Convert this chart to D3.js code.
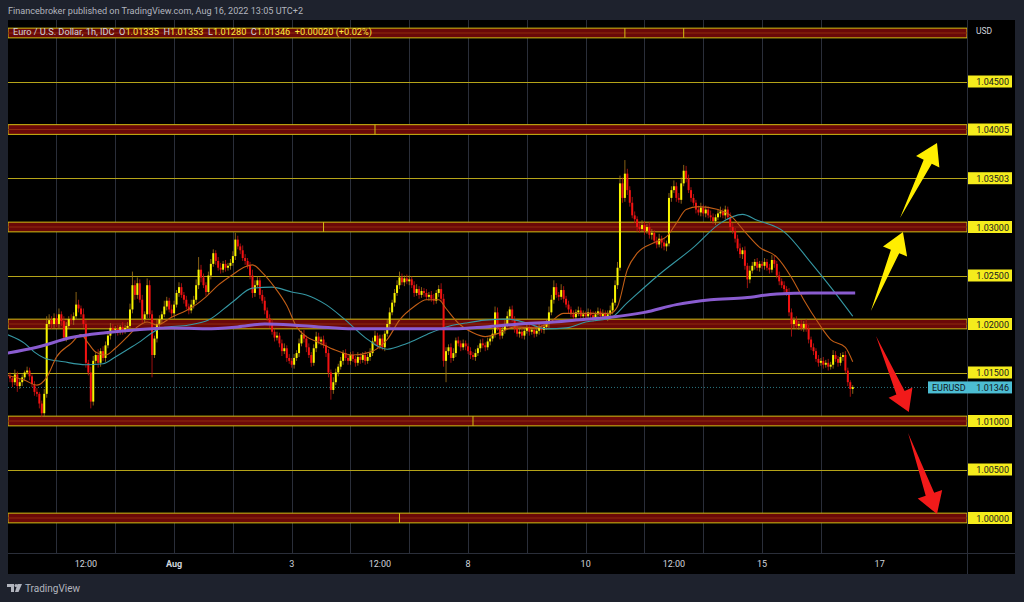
<!DOCTYPE html>
<html>
<head>
<meta charset="utf-8">
<script src="https://cdnjs.cloudflare.com/ajax/libs/d3/7.8.5/d3.min.js"></script>
<style>
  html, body { margin: 0; padding: 0; background: #1e222d; }
  svg { display: block; font-family: Roboto, "Liberation Sans", sans-serif; }
</style>
</head>
<body>
<svg id="canvas" width="1024" height="602"></svg>
<script>
// EUR/USD 1h closes, pips above 1.00000 (Jul 27 04:00 .. Aug 16 13:00)
let closes = [
  146,144,140,148,136,140,145,150,152,146,138,130,128,118,108,128,200,204,200,206,
  200,210,203,186,198,205,204,208,220,216,210,200,160,150,120,162,168,160,172,165,178,188,196,194,
  195,192,197,193,196,198,215,240,230,242,225,205,210,240,210,168,185,200,205,210,218,224,215,211,
  220,232,238,230,225,218,214,220,225,240,256,248,240,233,250,262,273,265,258,256,262,258,260,263,
  270,287,280,276,268,265,260,250,232,240,245,230,224,214,206,200,192,186,188,180,172,175,165,162,
  158,165,170,180,189,185,176,168,160,175,187,182,184,178,170,150,132,140,150,156,162,170,165,162,
  168,164,160,166,163,168,162,166,170,182,188,178,185,176,190,200,212,222,232,240,248,243,247,244,
  246,240,232,236,230,234,232,228,230,226,224,232,236,226,162,172,176,165,170,183,180,176,180,177,
  172,168,166,170,175,180,178,176,182,185,190,212,196,188,194,200,208,215,205,195,190,192,188,193,
  196,192,194,190,193,196,194,197,200,212,225,238,230,228,235,226,220,215,210,207,212,214,208,210,
  208,212,209,206,210,213,208,211,207,210,214,222,240,258,345,330,355,338,325,312,308,300,298,302,
  296,300,292,294,286,282,288,284,280,283,330,338,342,330,328,345,358,350,338,330,325,318,315,320,
  314,318,312,310,306,310,314,316,312,318,310,300,296,288,278,272,276,260,246,255,260,264,258,262,
  260,264,258,256,266,262,250,244,240,236,232,212,200,204,198,200,196,200,195,184,176,172,164,160,
  162,158,160,156,158,168,164,160,166,168,152,140,133,135
]
let firstOpen = 148

// wick lengths above / below the body, pips
let wickUp = [
  3,4,2,5,3,4,3,2,4,3,2,3,4,2,3,5,8,6,4,5,
  4,6,3,5,4,3,5,4,13,5,3,6,4,3,6,5,4,6,3,5,4,3,5,4,
  3,4,2,5,3,4,6,14,5,6,4,5,3,7,5,4,3,5,4,3,6,4,3,5,
  4,3,5,4,3,4,3,5,4,6,13,5,4,3,4,5,4,3,4,5,3,4,3,4,
  5,7,4,3,5,4,3,4,6,5,4,3,5,4,3,4,5,3,4,3,4,5,3,4,
  3,4,3,5,4,5,3,4,3,4,5,4,3,4,3,4,3,5,4,3,4,3,4,3,
  3,4,3,5,4,3,4,3,5,4,5,3,4,4,3,4,5,3,4,5,6,4,3,4,
  4,3,4,5,3,4,3,4,3,4,5,3,4,6,5,4,3,4,5,3,4,3,4,3,
  3,4,3,4,3,4,5,3,4,3,4,6,5,4,3,4,5,3,4,3,4,3,4,3,
  3,4,3,4,3,4,3,4,5,6,5,7,4,3,6,4,3,4,3,4,3,4,3,4,
  3,4,3,4,3,4,3,4,3,4,5,4,5,6,8,6,14,5,4,6,4,3,4,5,
  4,3,5,4,3,4,5,3,4,3,5,4,6,4,5,6,6,5,4,3,4,3,4,5,
  3,4,3,5,4,3,4,5,3,4,3,5,4,3,4,5,3,4,3,5,4,3,4,3,
  3,4,3,4,5,4,3,4,3,4,3,5,4,3,4,3,4,3,5,4,3,4,3,4,
  3,4,3,4,3,5,4,3,4,3,4,3,2,2
]
let wickDown = [
  3,4,5,3,6,3,4,3,2,4,3,4,3,5,4,3,4,3,5,4,
  3,4,5,3,4,3,4,5,3,4,3,4,5,3,7,4,3,5,4,3,4,3,4,3,
  3,4,3,4,3,4,3,4,5,4,3,5,3,4,4,23,3,4,3,4,3,4,3,4,
  4,3,4,3,4,3,4,3,4,3,4,5,3,4,3,4,3,4,3,4,3,4,3,4,
  3,4,3,4,3,4,3,4,5,4,3,4,3,4,3,4,3,4,3,4,5,3,4,3,
  3,4,3,4,3,4,5,3,4,3,4,3,4,3,4,5,10,4,3,4,3,4,3,4,
  4,3,4,3,4,3,4,3,4,3,4,3,4,3,4,3,4,3,4,3,4,3,4,3,
  4,3,4,3,4,3,4,3,4,3,4,3,4,3,6,22,4,5,3,4,3,4,3,4,
  3,4,3,4,3,4,3,4,3,4,3,4,3,4,3,4,3,4,3,4,3,4,3,4,
  3,4,3,4,3,4,3,4,3,4,3,4,3,4,3,4,3,4,3,4,3,4,3,4,
  3,4,3,4,3,4,3,4,3,4,3,4,3,4,3,5,4,5,4,3,4,5,4,3,
  4,3,4,5,3,4,3,6,4,5,3,4,3,4,3,4,3,4,3,4,3,4,3,4,
  3,4,3,4,3,4,3,4,3,4,3,4,3,4,3,4,5,4,9,4,3,4,3,4,
  3,4,3,4,3,4,3,4,3,4,3,4,13,4,3,4,3,4,3,4,3,4,3,4,
  3,4,3,4,3,4,3,4,3,4,3,4,8,5
]

// moving averages: [bar, pips]
let emaFast = [[0,147],[7,142],[12,137],[16,145],[20,166],[26,180],[30,189],[33,180],[36,171],[40,168],[44,175],[49,187],[53,197],[57,202],[61,199],[67,207],[73,214],[77,220],[81,228],[86,240],[92,251],[97,259],[100,261],[104,253],[109,238],[114,219],[118,197],[122,187],[127,181],[134,173],[141,168],[148,171],[155,184],[160,204],[166,218],[171,225],[176,225],[179,216],[184,201],[190,191],[195,187],[201,191],[207,197],[215,196],[221,201],[227,211],[232,211],[246,211],[249,218],[253,256],[257,273],[264,284],[269,290],[273,304],[277,318],[282,321],[290,318],[295,312],[301,295],[307,279],[314,269],[320,248],[325,225],[331,201],[336,184],[342,176],[345,161]]
let maMid = [[0,189],[7,180],[11,171],[15,165],[23,161],[32,158],[39,159],[44,166],[53,180],[63,196],[74,199],[82,204],[92,223],[100,237],[108,238],[116,233],[122,230],[130,220],[138,204],[146,186],[155,174],[163,180],[171,189],[179,197],[187,201],[195,204],[204,205],[212,201],[220,195],[228,196],[236,202],[246,206],[253,222],[266,251],[280,279],[291,304],[300,313],[306,307],[317,295],[328,263],[336,238],[345,208]]
let maSlow = [[0,170],[12,176],[26,186],[40,191],[53,194],[67,196],[81,195],[94,197],[105,200],[116,199],[127,197],[141,195],[155,195],[168,195],[182,195],[195,197],[209,200],[223,202],[236,205],[246,207],[260,212],[273,220],[287,225],[301,227],[314,231],[328,232],[346,232]]

let zones = [1.05, 1.04005, 1.03, 1.02, 1.01, 1.00]
let zoneMarks = [[1.05, 252], [1.05, 276], [1.04005, 150], [1.03, 129], [1.01, 190], [1.00, 160]]
let levels = [1.045, 1.03503, 1.025, 1.015, 1.005]
let priceLabels = ['1.04500', '1.04005', '1.03503', '1.03000', '1.02500', '1.02000', '1.01500', '1.01000', '1.00500', '1.00000']
let dayStarts = [20, 44, 68, 92, 116, 140, 164, 188, 212, 236, 260, 284, 308, 332]
let timeTicks = [[32, '12:00'], [68, 'Aug'], [116, '3'], [152, '12:00'], [188, '8'], [236, '10'], [272, '12:00'], [308, '15'], [356, '17']]
let lastPrice = 1.01346

// arrows: [tail bar, tail price, tip bar, tip price]
let upArrows = [[352.4, 1.02134, 365.5, 1.02948], [364.3, 1.03093, 379.4, 1.03866]]
let downArrows = [[354.5, 1.01876, 367.9, 1.01093], [367.6, 1.00876, 379.4, 1.00041]]

let svg = d3.select('#canvas')

let pLeft = 8, pRight = 967, pTop = 20, pBottom = 553

let x = d3.scaleLinear().domain([0, 391.4]).range([7.5, 966.4])
let y = d3.scaleLinear().domain([1.0, 1.045]).range([518, 81.5])
let yp = (p) => y(1 + p / 10000)

// frame
svg.append('rect').attr('x', pLeft).attr('y', pTop).attr('width', 1015 - pLeft).attr('height', 574 - pTop).attr('fill', '#000')

svg.append('defs').append('clipPath').attr('id', 'plot')
  .append('rect').attr('x', pLeft).attr('y', pTop).attr('width', pRight - pLeft).attr('height', pBottom - pTop)

let plot = svg.append('g').attr('clip-path', 'url(#plot)')

plot.selectAll('.grid').data(dayStarts).enter().append('line')
  .attr('x1', (d) => Math.round(x(d)) + 0.5).attr('x2', (d) => Math.round(x(d)) + 0.5)
  .attr('y1', pTop).attr('y2', pBottom)
  .attr('stroke', '#2a2e39').attr('stroke-width', 1)

// thin levels
plot.selectAll('.level').data(levels).enter().append('line')
  .attr('x1', pLeft).attr('x2', pRight)
  .attr('y1', (d) => Math.round(y(d)) + 0.5).attr('y2', (d) => Math.round(y(d)) + 0.5)
  .attr('stroke', '#b5a419').attr('stroke-width', 1)

// zones
let zone = plot.selectAll('.zone').data(zones).enter().append('g')
zone.append('rect')
  .attr('x', pLeft).attr('width', pRight - pLeft)
  .attr('y', (d) => y(d + 0.0005)).attr('height', (d) => y(d - 0.0005) - y(d + 0.0005))
  .attr('fill', '#6a0808').attr('stroke', '#d2bd12').attr('stroke-width', 1)
zone.append('line')
  .attr('x1', pLeft).attr('x2', pRight)
  .attr('y1', (d) => y(d)).attr('y2', (d) => y(d))
  .attr('stroke', '#8c2a0c').attr('stroke-width', 1)

plot.selectAll('.mark').data(zoneMarks).enter().append('line')
  .attr('x1', (d) => x(d[1])).attr('x2', (d) => x(d[1]))
  .attr('y1', (d) => y(d[0] + 0.0005)).attr('y2', (d) => y(d[0] - 0.0005))
  .attr('stroke', '#d2bd12').attr('stroke-width', 1)

// current price dotted line
plot.append('line')
  .attr('x1', pLeft).attr('x2', pRight)
  .attr('y1', y(lastPrice)).attr('y2', y(lastPrice))
  .attr('stroke', '#2a7480').attr('stroke-width', 1).attr('stroke-dasharray', '1,2')

// candles
let candles = closes.map((c, i) => {
  let o = i === 0 ? firstOpen : closes[i - 1]
  return { i: i, o: o, c: c, h: Math.max(o, c) + wickUp[i], l: Math.min(o, c) - wickDown[i] }
})

let candle = plot.selectAll('.candle').data(candles).enter().append('g')

candle.append('line')
  .attr('x1', (d) => x(d.i)).attr('x2', (d) => x(d.i))
  .attr('y1', (d) => yp(d.h)).attr('y2', (d) => yp(d.l))
  .attr('stroke', (d) => d.c >= d.o ? '#a8781a' : '#c41414').attr('stroke-width', 0.8)

candle.append('rect')
  .attr('x', (d) => x(d.i) - 1).attr('width', 2)
  .attr('y', (d) => yp(Math.max(d.o, d.c)))
  .attr('height', (d) => Math.max(1, Math.abs(yp(d.o) - yp(d.c))))
  .attr('fill', (d) => d.c >= d.o ? '#f7f400' : '#f21212')

// moving averages
let line = d3.line().x((d) => x(d[0])).y((d) => yp(d[1])).curve(d3.curveMonotoneX)

plot.append('path').datum(maMid).attr('d', line)
  .attr('fill', 'none').attr('stroke', '#3597a3').attr('stroke-width', 1.1)
plot.append('path').datum(emaFast).attr('d', line)
  .attr('fill', 'none').attr('stroke', '#c25e16').attr('stroke-width', 1.1)
plot.append('path').datum(maSlow).attr('d', line)
  .attr('fill', 'none').attr('stroke', '#8a5cd0').attr('stroke-width', 3)

// arrows
let arrowPath = (a) => {
  let x0 = x(a[0]), y0 = y(a[1]), x1 = x(a[2]), y1 = y(a[3])
  let dx = x1 - x0, dy = y1 - y0, len = Math.sqrt(dx * dx + dy * dy)
  let ux = dx / len, uy = dy / len, nx = -uy, ny = ux
  let headLen = 21, headW = 13, shaftW = 4.5
  let bx = x1 - ux * headLen, by = y1 - uy * headLen
  let pts = [
    [x0, y0],
    [bx + nx * shaftW, by + ny * shaftW],
    [bx + nx * headW, by + ny * headW],
    [x1, y1],
    [bx - nx * headW, by - ny * headW],
    [bx - nx * shaftW, by - ny * shaftW]
  ]
  return 'M' + pts.map((p) => p[0] + ',' + p[1]).join('L') + 'Z'
}

svg.selectAll('.up').data(upArrows).enter().append('path')
  .attr('d', arrowPath).attr('fill', '#ffee00')
svg.selectAll('.down').data(downArrows).enter().append('path')
  .attr('d', arrowPath).attr('fill', '#f21a1a')

// axis separators
svg.append('line').attr('x1', pRight + 0.5).attr('x2', pRight + 0.5).attr('y1', pTop).attr('y2', 574)
  .attr('stroke', '#2a2e39')
svg.append('line').attr('x1', pLeft).attr('x2', 1015).attr('y1', pBottom + 0.5).attr('y2', pBottom + 0.5)
  .attr('stroke', '#2a2e39')

// price labels
let pl = svg.selectAll('.plabel').data(priceLabels).enter().append('g')
  .attr('transform', (d) => 'translate(968,' + y(+d) + ')')
pl.append('rect').attr('x', 0).attr('y', -6).attr('width', 44).attr('height', 12).attr('fill', '#f5ec1c')
pl.append('text').attr('x', 41).attr('y', 3.5).attr('text-anchor', 'end')
  .attr('font-size', 9).attr('fill', '#131722').text((d) => d)

let cur = svg.append('g').attr('transform', 'translate(928,' + y(lastPrice) + ')')
cur.append('rect').attr('x', 0).attr('y', -6).attr('width', 84).attr('height', 12).attr('fill', '#4cbdd3')
cur.append('text').attr('x', 4).attr('y', 3.5).attr('font-size', 9).attr('fill', '#131722').text('EURUSD')
cur.append('text').attr('x', 81).attr('y', 3.5).attr('text-anchor', 'end').attr('font-size', 9).attr('fill', '#131722').text(lastPrice.toFixed(5))

svg.append('text').attr('x', 976).attr('y', 34).attr('font-size', 8.5).attr('fill', '#d1d4dc').text('USD')

// time labels
svg.selectAll('.tlabel').data(timeTicks).enter().append('text')
  .attr('x', (d) => x(d[0])).attr('y', 567)
  .attr('text-anchor', 'middle').attr('font-size', 9)
  .attr('font-weight', (d) => d[1] === 'Aug' ? 'bold' : 'normal')
  .attr('fill', '#d1d4dc').text((d) => d[1])

// header texts
svg.append('text').attr('x', 8).attr('y', 14).attr('font-size', 9.1).attr('fill', '#b2b5be')
  .text('Financebroker published on TradingView.com, Aug 16, 2022 13:05 UTC+2')

let sp = '\u00a0\u00a0'
let legend = svg.append('text').attr('x', 13).attr('y', 35).attr('font-size', 9.2)
legend.append('tspan').attr('fill', '#d1d4dc').text('Euro / U.S. Dollar, 1h, IDC' + sp + 'O')
legend.append('tspan').attr('fill', '#ffeb3b').text('1.01335')
legend.append('tspan').attr('fill', '#d1d4dc').text(sp + 'H')
legend.append('tspan').attr('fill', '#ffeb3b').text('1.01353')
legend.append('tspan').attr('fill', '#d1d4dc').text(sp + 'L')
legend.append('tspan').attr('fill', '#ffeb3b').text('1.01280')
legend.append('tspan').attr('fill', '#d1d4dc').text(sp + 'C')
legend.append('tspan').attr('fill', '#ffeb3b').text('1.01346' + sp + '+0.00020 (+0.02%)')

// TradingView logo
let logo = svg.append('g').attr('fill', '#b2b5be')
logo.append('path').attr('d', 'M7,584 h7 v8 h-3 v-5 h-4 Z')
logo.append('circle').attr('cx', 16).attr('cy', 585.5).attr('r', 1.5)
logo.append('path').attr('d', 'M17.5,584 h4.5 l-3.5,8 h-3.5 Z')
svg.append('text').attr('x', 25).attr('y', 592).attr('font-size', 10).attr('fill', '#b2b5be').text('TradingView')
</script>
</body>
</html>
